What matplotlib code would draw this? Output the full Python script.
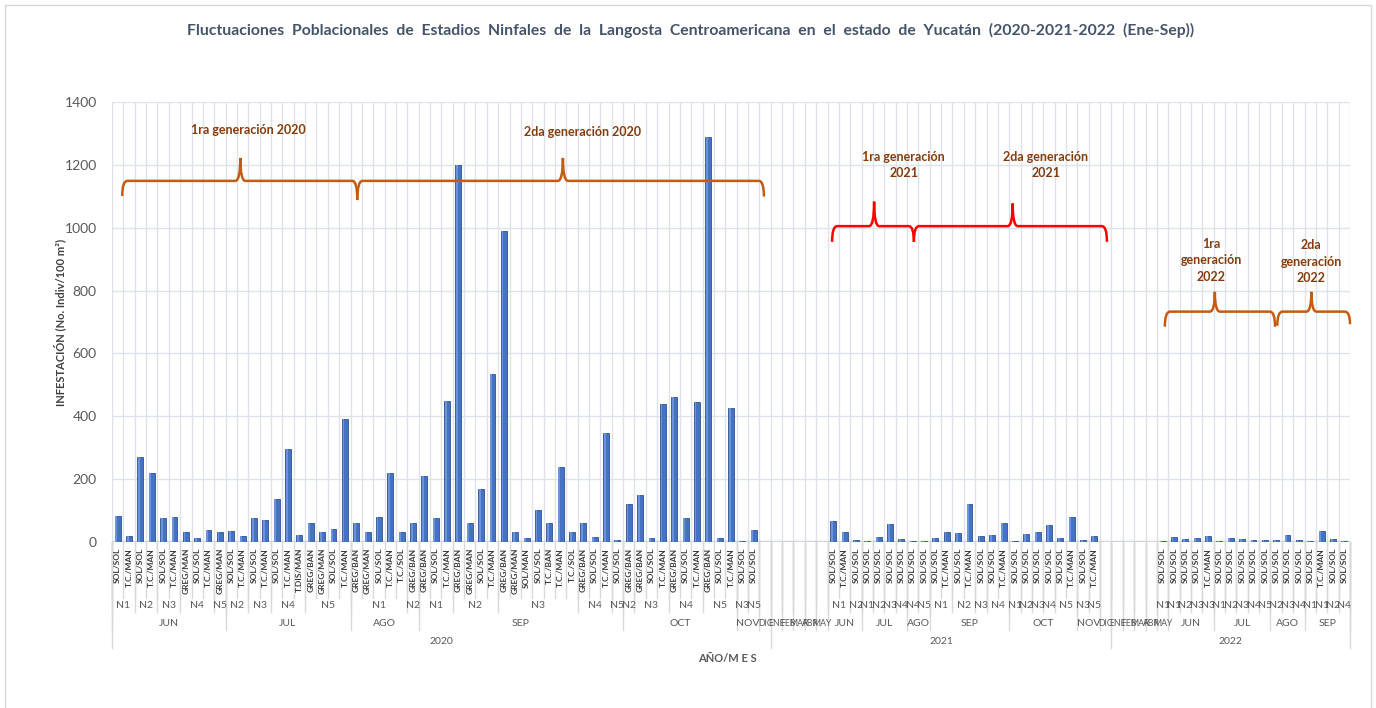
import numpy as np
import matplotlib.pyplot as plt
from matplotlib.path import Path
from matplotlib.patches import PathPatch, Rectangle

plt.rcParams['font.family'] = ['Lato', 'DejaVu Sans']

# ---- data: one entry per category (blank = month without sampling) ----
habitats = [
    # 2020
    'SOL/SOL', 'T.C./MAN', 'SOL/SOL', 'T.C./MAN', 'SOL/SOL', 'T.C./MAN', 'GREG/MAN', 'SOL/SOL', 'T.C./MAN', 'GREG/MAN',
    'SOL/SOL', 'T.C./MAN', 'SOL/SOL', 'T.C./MAN', 'SOL/SOL', 'T.C./MAN', 'T.DIS/MAN', 'GREG/BAN', 'GREG/MAN', 'SOL/SOL', 'T.C./MAN',
    'GREG/BAN', 'GREG/MAN', 'SOL/SOL', 'T.C./MAN', 'T.C./SOL', 'GREG/BAN',
    'GREG/BAN', 'SOL/SOL', 'T.C./MAN', 'GREG/BAN', 'GREG/MAN', 'SOL/SOL', 'T.C./MAN', 'GREG/BAN', 'GREG/MAN', 'SOL/MAN',
    'SOL/SOL', 'T.C./BAN', 'T.C./MAN', 'T.C./SOL', 'GREG/BAN', 'SOL/SOL', 'T.C./MAN', 'SOL/SOL',
    'GREG/BAN', 'GREG/BAN', 'SOL/SOL', 'T.C./MAN', 'GREG/BAN', 'SOL/SOL', 'T.C./MAN', 'GREG/BAN', 'SOL/SOL', 'T.C./MAN',
    'SOL/SOL', 'SOL/SOL', '',
    # 2021
    '', '', '', '', '',
    'SOL/SOL', 'T.C./MAN', 'SOL/SOL',
    'SOL/SOL', 'SOL/SOL', 'SOL/SOL', 'SOL/SOL',
    'SOL/SOL', 'SOL/SOL',
    'SOL/SOL', 'T.C./MAN', 'SOL/SOL', 'T.C./MAN', 'SOL/SOL', 'SOL/SOL', 'T.C./MAN',
    'SOL/SOL', 'SOL/SOL', 'SOL/SOL', 'SOL/SOL', 'SOL/SOL', 'T.C./MAN',
    'SOL/SOL', 'T.C./MAN', '',
    # 2022
    '', '', '', '',
    'SOL/SOL',
    'SOL/SOL', 'SOL/SOL', 'SOL/SOL', 'T.C./MAN',
    'SOL/SOL', 'SOL/SOL', 'SOL/SOL', 'SOL/SOL', 'SOL/SOL',
    'SOL/SOL', 'SOL/SOL', 'SOL/SOL',
    'SOL/SOL', 'T.C./MAN', 'SOL/SOL', 'SOL/SOL',
]

nan = np.nan
infestation = [
    # 2020
    82, 18, 270, 220, 77, 80, 32, 12, 38, 32,
    36, 20, 76, 70, 137, 297, 23, 62, 32, 41, 392,
    62, 32, 81, 220, 32, 62,
    210, 76, 450, 1200, 62, 170, 535, 990, 32, 12,
    103, 62, 240, 32, 62, 16, 348, 7,
    122, 150, 14, 440, 460, 76, 445, 1290, 14, 425,
    3, 38, nan,
    # 2021
    nan, nan, nan, nan, nan,
    66, 33, 5,
    3, 16, 56, 10,
    3, 3,
    12, 32, 28, 122, 19, 22, 60,
    3, 25, 32, 53, 13, 80,
    6, 19, nan,
    # 2022
    nan, nan, nan, nan,
    3,
    16, 10, 13, 19,
    3, 13, 8, 5, 5,
    5, 23, 5,
    3, 34, 10, 3,
]

stage_labels = [
    'N1', 'N2', 'N3', 'N4', 'N5', 'N2', 'N3', 'N4', 'N5', 'N1', 'N2',
    'N1', 'N2', 'N3', 'N4', 'N5', 'N2', 'N3', 'N4', 'N5', 'N3', 'N5', '',
    '', '', '', '', '', 'N1', 'N2', 'N1', 'N2', 'N3', 'N4', 'N4', 'N5',
    'N1', 'N2', 'N3', 'N4', 'N1', 'N2', 'N3', 'N4', 'N5', 'N3', 'N5', '',
    '', '', '', '', 'N1', 'N1', 'N2', 'N3', 'N3', 'N1', 'N2', 'N3', 'N4', 'N5',
    'N2', 'N3', 'N4', 'N1', 'N1', 'N2', 'N4',
]
stage_sizes = [
    2, 2, 2, 3, 1, 2, 2, 3, 4, 5, 1,
    3, 4, 7, 3, 1, 1, 3, 3, 3, 1, 1, 1,
    1, 1, 1, 1, 1, 2, 1, 1, 1, 1, 1, 1, 1,
    2, 2, 1, 2, 1, 1, 1, 1, 2, 1, 1, 1,
    1, 1, 1, 1, 1, 1, 1, 1, 1, 1, 1, 1, 1, 1,
    1, 1, 1, 1, 1, 1, 1,
]

month_labels = ['JUN', 'JUL', 'AGO', 'SEP', 'OCT', 'NOV', 'DIC',
                'ENE', 'FEB', 'MAR', 'ABR', 'MAY', 'JUN', 'JUL', 'AGO', 'SEP', 'OCT', 'NOV', 'DIC',
                'ENE', 'FEB', 'MAR', 'ABR', 'MAY', 'JUN', 'JUL', 'AGO', 'SEP']
month_sizes = [10, 11, 6, 18, 10, 2, 1,
               1, 1, 1, 1, 1, 3, 4, 2, 7, 6, 2, 1,
               1, 1, 1, 1, 1, 4, 5, 3, 4]

year_labels = ['2020', '2021', '2022']
year_sizes = [58, 30, 21]

title = ('Fluctuaciones  Poblacionales  de  Estadios  Ninfales  de  la  Langosta  Centroamericana  '
         'en  el  estado  de  Yucatán  (2020-2021-2022  (Ene-Sep))')

# ---- figure ----
fig = plt.figure(figsize=(13.76, 7.08), dpi=100)
ax = fig.add_axes([112 / 1376, 166 / 708, 1238 / 1376, 440 / 708])

n = len(habitats)
x = np.arange(n)
ax.bar(x, infestation, width=0.52, color='#4472C4', edgecolor='#2F528F', linewidth=0.6, zorder=3)
ax.bar(x - 0.12, infestation, width=0.16, color='#6D93DB', linewidth=0, zorder=4)

ax.set_xlim(-0.5, n - 0.5)
ax.set_ylim(0, 1400)
ax.set_yticks(range(0, 1401, 200))
ax.set_xticks(np.arange(-0.5, n, 1))
ax.grid(color='#DEE2EA', linewidth=1, zorder=0)
ax.tick_params(axis='x', length=0, labelbottom=False)
ax.tick_params(axis='y', length=0, labelsize=10, labelcolor='#595959', pad=11)
for s in ax.spines.values():
    s.set_visible(False)
ax.axhline(0, color='#D0D4DC', lw=2.5, zorder=2)

# ---- multi-level category axis ----
tr = ax.get_xaxis_transform()
px = 1 / 440.0
line_kw = dict(color='#D9D9D9', lw=1, transform=tr, clip_on=False)


def dividers(sizes, depth):
    edges = np.concatenate([[0], np.cumsum(sizes)]) - 0.5
    for e in edges:
        ax.plot([e, e], [0, -depth * px], **line_kw)
    return edges


dividers([1] * n, 56)
for i, lab in enumerate(habitats):
    ax.text(i, -6 * px, lab, rotation=90, ha='center', va='top', fontsize=6,
            fontweight='bold', color='#3A3A3A', transform=tr, clip_on=False)

for sizes, labels, depth, ytext in [(stage_sizes, stage_labels, 70, 63),
                                     (month_sizes, month_labels, 88, 81),
                                     (year_sizes, year_labels, 106, 99)]:
    edges = dividers(sizes, depth)
    for k, lab in enumerate(labels):
        fs = 6.3 if sizes[k] == 1 and sizes is month_sizes else 7.5
        ax.text((edges[k] + edges[k + 1]) / 2, -ytext * px, lab, ha='center', va='center',
                fontsize=fs, color='#595959', transform=tr, clip_on=False)

# ---- generation braces ----
def brace(xa, xb, xt, y, drop_a, drop_b, tip, color):
    r = 0.45
    verts = [(xa, y - drop_a), (xa, y), (xa + r, y),
             (xt - r, y), (xt, y), (xt, y + tip),
             (xt, y), (xt + r, y),
             (xb - r, y), (xb, y), (xb, y - drop_b)]
    codes = [Path.MOVETO, Path.CURVE3, Path.CURVE3,
             Path.LINETO, Path.CURVE3, Path.CURVE3,
             Path.CURVE3, Path.CURVE3,
             Path.LINETO, Path.CURVE3, Path.CURVE3]
    ax.add_patch(PathPatch(Path(verts, codes), fill=False, edgecolor=color, lw=1.8,
                           zorder=6, clip_on=False))


orange = '#C55A11'
brace(0.4, 21.1, 10.8, 1149, 48, 61, 73, orange)
brace(21.1, 56.9, 39.2, 1149, 61, 50, 73, orange)
brace(62.9, 70.1, 66.6, 1005, 50, 50, 78, 'red')
brace(70.1, 87.1, 78.8, 1005, 50, 50, 72, 'red')
brace(92.2, 101.9, 96.6, 733, 48, 48, 63, orange)
brace(102.1, 108.5, 105.1, 733, 45, 40, 63, orange)

txt_kw = dict(ha='center', va='center', fontsize=9, fontweight='bold', color='#843C0C',
              linespacing=1.45, zorder=7)
ax.text(11.5, 1312, '1ra generación 2020', **txt_kw)
ax.text(40.9, 1304, '2da generación 2020', **txt_kw)
ax.text(69.2, 1199, '1ra generación\n2021', **txt_kw)
ax.text(81.7, 1199, '2da generación\n2021', **txt_kw)
ax.text(96.3, 896, '1ra\ngeneración\n2022', **txt_kw)
ax.text(105.1, 892, '2da\ngeneración\n2022', **txt_kw)

# ---- titles ----
fig.text(691 / 1376, 1 - 30 / 708, title, ha='center', va='center', fontsize=11.3,
         fontweight='bold', color='#44546A')
fig.text(60 / 1376, 1 - 322 / 708, 'INFESTACIÓN (No. Indiv/100 m²)', rotation=90,
         ha='center', va='center', fontsize=8, fontweight='bold', color='#404040')
fig.text(727 / 1376, 1 - 659 / 708, 'AÑO/M E S', ha='center', va='center', fontsize=8,
         fontweight='bold', color='#595959')

fig.patches.append(Rectangle((5 / 1376, -0.01), 1366 / 1376, 1.01 - 5 / 708, fill=False,
                             edgecolor='#D9D9D9', lw=1, transform=fig.transFigure))

fig.savefig('out.png', dpi=100)
